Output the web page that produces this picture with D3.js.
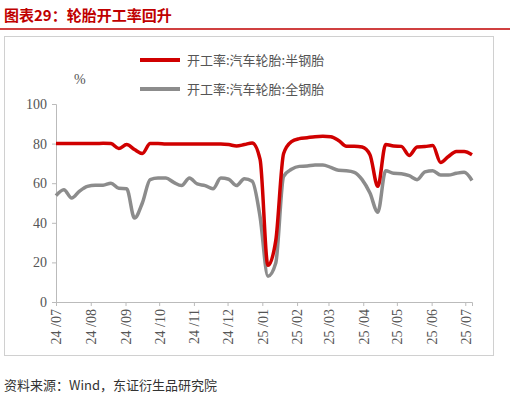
<!DOCTYPE html>
<meta charset="utf-8">
<script src="https://d3js.org/d3.v7.min.js"></script>
<style>
body { margin: 0; background: #fff; }
text { font-family: "Liberation Serif", "Noto Sans CJK SC", serif; }
.cn { font-family: "Noto Sans CJK SC", sans-serif; }
</style>
<div id="my_dataviz"></div>
<script>
// weekly dates (Mondays) and the two series
var startDate = "2024-07-01", nWeeks = 54;
var semiSteel = [80,80,80,80,80,80,80.2,80,77.5,79.5,77,75,80,80,79.8,79.8,79.8,79.8,79.8,79.8,79.8,79.8,79.5,78.8,79.5,80.3,72,18.5,31,75,81,82.5,83,83.5,83.7,83.5,81.6,78.6,78.7,78.3,74.4,58.4,79.5,78.8,78.6,74,78.3,78.5,79,70.5,73.5,76,76,74.4];
var allSteel  = [53.7,56.7,52.5,56,58.4,59,59,60,57.4,57.2,42.4,50,61.8,62.6,62.6,60.4,58.8,62.6,59.6,58.8,57.2,62.6,62,58.8,62.3,61,43,13,19.7,63.5,67,68.5,68.7,69.2,69.2,68,66.5,66.3,65.5,61.8,55,45.3,66.3,65,64.8,63.8,61.8,65.7,66.3,64.1,64.1,65,65.5,61.4];
var seriesNames = ["开工率:汽车轮胎:半钢胎", "开工率:汽车轮胎:全钢胎"];
var colors = ["#d00000", "#8c8c8c"];
var yTicks = [0,20,40,60,80,100];

var parse = d3.timeParse("%Y-%m-%d");
var dates = d3.range(nWeeks).map(function(i){ return d3.timeWeek.offset(parse(startDate), i); });

var W = 510, H = 400;
var margin = {top: 104, right: 38, bottom: 98, left: 56};
var width = W - margin.left - margin.right, height = H - margin.top - margin.bottom;

var root = d3.select("#my_dataviz").append("svg").attr("width", W).attr("height", H);

// title
root.append("text").attr("class","cn").attr("x",4).attr("y",21)
  .attr("fill","#c00000").attr("font-size",15).attr("font-weight","bold")
  .text("图表29：轮胎开工率回升");
root.append("line").attr("x1",0).attr("x2",510).attr("y1",29).attr("y2",29)
  .attr("stroke","#c00000").attr("stroke-width",1.5);
// frame
root.append("rect").attr("x",4.5).attr("y",36.5).attr("width",489).attr("height",319)
  .attr("fill","none").attr("stroke","#d0d0d0");

var svg = root.append("g").attr("transform","translate(" + margin.left + "," + margin.top + ")");

var x = d3.scaleTime().domain(d3.extent(dates)).range([0, width]);
var y = d3.scaleLinear().domain([0,100]).range([height, 0]);

// y axis
var ya = svg.append("g").call(d3.axisLeft(y).tickValues(yTicks).tickSize(4))
  .attr("font-family","Liberation Serif");
ya.select(".domain").attr("stroke","#bbb");
ya.selectAll("line").attr("stroke","#bbb");
ya.selectAll("text").attr("font-size",14).attr("fill","#555").attr("x",-9);

// x axis
var xa = svg.append("g").attr("transform","translate(0," + height + ")")
  .call(d3.axisBottom(x).ticks(d3.timeMonth.every(1)).tickFormat(d3.timeFormat("%y /%m")).tickSize(4))
  .attr("font-family","Liberation Serif");
xa.select(".domain").attr("stroke","#bbb");
xa.selectAll("line").attr("stroke","#bbb");
xa.selectAll("text").attr("font-size",14).attr("fill","#555")
  .attr("transform","rotate(-90)").attr("text-anchor","end")
  .attr("x",-7).attr("y",0).attr("dy","0.35em");

svg.append("text").attr("x",18).attr("y",-20).attr("font-size",14).attr("fill","#555").text("%");

// lines
[allSteel, semiSteel].forEach(function(vals, k){
  var ci = k === 0 ? 1 : 0;
  svg.append("path").datum(vals)
    .attr("fill","none").attr("stroke",colors[ci]).attr("stroke-width",3.5)
    .attr("stroke-linejoin","round")
    .attr("d", d3.line().curve(d3.curveMonotoneX)
      .x(function(d,i){ return x(dates[i]); })
      .y(function(d){ return y(d); }));
});

// legend
seriesNames.forEach(function(n, i){
  var ly = 60 + i*29;
  root.append("line").attr("x1",140).attr("x2",180).attr("y1",ly).attr("y2",ly)
    .attr("stroke",colors[i]).attr("stroke-width",4);
  root.append("text").attr("class","cn").attr("x",187).attr("y",ly+5)
    .attr("font-size",13).attr("fill","#555").text(n);
});

// source
root.append("text").attr("class","cn").attr("x",4).attr("y",390)
  .attr("font-size",13).attr("fill","#333").text("资料来源：Wind，东证衍生品研究院");
</script>
